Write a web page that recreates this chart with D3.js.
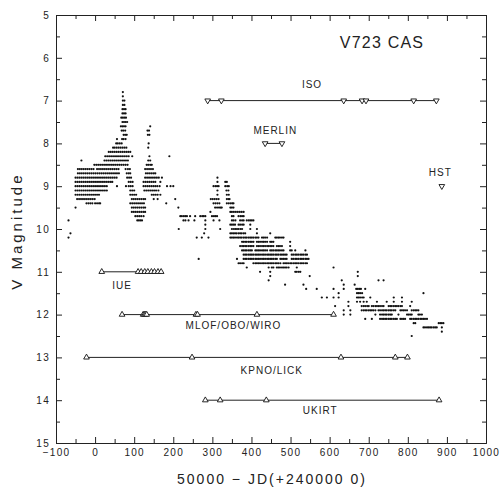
<!DOCTYPE html>
<html>
<head>
<meta charset="utf-8">
<script src="https://cdn.jsdelivr.net/npm/d3@7"></script>
<style>
  body { margin: 0; background: #fff; }
  svg { display: block; }
  text { font-family: "Liberation Sans", Arial, sans-serif; fill: #222; }
  .tick text { font-size: 10px; letter-spacing: 1.3px; }
  .axis path, .axis line { stroke: #222; stroke-width: 1; }
</style>
</head>
<body>
<svg id="chart"></svg>
<script>
// V magnitude light curve, one entry per magnitude row (days since JD 2450000)
const vRows = [
  { v: 6.8, days: [71] },
  { v: 6.9, days: [71] },
  { v: 7.0, days: [71, 75] },
  { v: 7.1, days: [71, 75] },
  { v: 7.2, days: [70, 74, 78] },
  { v: 7.3, days: [70, 74, 78] },
  { v: 7.4, days: [67, 71, 75, 79] },
  { v: 7.5, days: [70, 74, 78, 82] },
  { v: 7.6, days: [66, 70, 74, 78, 141] },
  { v: 7.7, days: [68, 72, 77, 134, 138] },
  { v: 7.8, days: [73, 77, 81, 135, 139] },
  { v: 7.9, days: [56, 69, 73, 78] },
  { v: 8.0, days: [54, 58, 63, 68, 137] },
  { v: 8.1, days: [46, 50, 55, 60, 65, 70, 75, 80, 136] },
  { v: 8.2, days: [35, 40, 45, 50, 55, 60, 65, 70, 75, 80, 85, 90] },
  { v: 8.3, days: [26, 31, 36, 41, 46, 51, 56, 61, 66, 71, 76, 81, 86, 95, 139, 190] },
  { v: 8.4, days: [-35, 24, 29, 34, 39, 44, 49, 54, 59, 64, 69, 74, 79, 84, 136, 141] },
  { v: 8.5, days: [-2, 3, 8, 13, 18, 23, 28, 33, 38, 43, 48, 53, 58, 63, 68, 73, 78, 83, 132, 136, 141, 145] },
  { v: 8.6, days: [-44, -39, -34, -29, -24, -19, -14, -9, -4, 5, 10, 15, 20, 25, 30, 35, 40, 45, 50, 55, 60, 78, 84, 89, 128, 133, 138, 143, 148] },
  { v: 8.7, days: [-44, -39, -34, -29, -24, -19, -14, -9, -4, 1, 6, 11, 16, 21, 26, 31, 36, 41, 46, 51, 56, 61, 81, 86, 90, 130, 135, 140, 145, 150, 154] },
  { v: 8.8, days: [-50, -45, -40, -35, -30, -25, -20, -15, -10, -5, 0, 5, 10, 15, 20, 25, 30, 35, 40, 45, 50, 55, 82, 87, 92, 128, 133, 138, 143, 148, 153, 158, 163, 171, 313] },
  { v: 8.9, days: [-50, -45, -40, -35, -30, -25, -20, -15, -10, -5, 0, 5, 10, 15, 20, 25, 30, 35, 40, 44, 86, 91, 96, 124, 129, 134, 139, 144, 149, 154, 167, 313, 333, 337] },
  { v: 9.0, days: [-50, -45, -40, -35, -30, -25, -20, -15, -10, -5, 0, 5, 10, 15, 20, 25, 30, 56, 79, 86, 91, 96, 124, 129, 134, 139, 144, 149, 154, 159, 165, 184, 193, 200, 303, 308, 312, 316, 333, 338, 342] },
  { v: 9.1, days: [-50, -45, -40, -35, -30, -25, -20, -15, -10, -5, 0, 5, 10, 15, 20, 25, 30, 90, 95, 100, 126, 131, 136, 141, 146, 151, 156, 162, 313, 336, 341] },
  { v: 9.2, days: [-50, -45, -40, -35, -30, -25, -20, -15, -10, -5, 0, 5, 10, 90, 95, 100, 105, 145, 150, 155, 160, 167, 313, 337, 342] },
  { v: 9.3, days: [-46, -41, -36, -31, -26, -21, -16, -11, -6, -1, 94, 99, 104, 109, 114, 119, 124, 128, 150, 160, 205, 296, 301, 306, 311, 316, 337, 341, 344] },
  { v: 9.4, days: [-22, -17, -12, -7, 0, 5, 10, 13, 90, 95, 100, 105, 110, 115, 120, 125, 182, 303, 308, 313, 318, 337, 342, 347, 351, 354] },
  { v: 9.5, days: [-50, 94, 99, 104, 109, 114, 119, 124, 128, 213, 307, 312, 317, 321, 324, 346, 350, 354] },
  { v: 9.6, days: [94, 99, 104, 109, 114, 119, 124, 128, 295, 346, 350, 355, 360, 365, 370, 375, 380] },
  { v: 9.7, days: [103, 108, 113, 118, 124, 218, 222, 227, 231, 235, 243, 256, 269, 274, 278, 282, 299, 304, 308, 312, 350, 354, 367, 372, 376, 380] },
  { v: 9.8, days: [-68, 108, 112, 116, 120, 226, 231, 239, 254, 282, 303, 318, 350, 354, 359, 371, 376, 380, 388, 393, 397, 401, 405] },
  { v: 9.9, days: [282, 346, 350, 354, 358, 367, 371, 376, 380, 397] },
  { v: 10.0, days: [214, 282, 320, 350, 355, 359, 363, 367, 372, 376, 397, 414] },
  { v: 10.1, days: [-63, 279, 346, 350, 354, 358, 362, 367, 371, 375, 380, 384, 414, 448] },
  { v: 10.2, days: [-68, 260, 273, 290, 346, 350, 354, 358, 363, 367, 371, 375, 380, 384, 388, 393, 397, 401, 405, 410, 414, 418, 427, 431, 435, 440, 461, 465, 469, 473, 478, 482] },
  { v: 10.3, days: [376, 380, 384, 388, 393, 397, 401, 405, 414, 418, 422, 427, 431, 435, 440, 448, 452, 456, 499] },
  { v: 10.4, days: [371, 376, 380, 384, 388, 393, 397, 401, 405, 414, 418, 422, 427, 431, 435, 440, 444, 448, 452, 456, 465, 469, 473, 478, 499] },
  { v: 10.5, days: [376, 380, 384, 388, 393, 397, 401, 410, 414, 418, 422, 427, 431, 435, 440, 448, 452, 456, 461, 465, 469, 473, 478, 482, 499, 503, 512, 538] },
  { v: 10.6, days: [380, 384, 388, 393, 397, 401, 405, 410, 414, 418, 422, 427, 431, 435, 440, 444, 448, 452, 456, 461, 465, 469, 474, 478, 482, 486, 490, 503, 507, 512, 516, 520, 525, 529, 533, 538, 542] },
  { v: 10.7, days: [265, 363, 380, 384, 388, 393, 397, 401, 405, 410, 414, 418, 422, 427, 431, 435, 440, 444, 448, 452, 456, 461, 465, 474, 478, 482, 486, 490, 503, 507, 512, 516, 520, 525, 529, 533, 538, 542, 546] },
  { v: 10.8, days: [367, 371, 376, 380, 405, 410, 414, 418, 422, 427, 431, 435, 440, 444, 448, 452, 456, 461, 465, 469, 474, 482, 486, 490, 494, 499, 503, 508, 512, 516, 520, 525, 529, 533, 538, 542] },
  { v: 10.9, days: [388, 444, 452, 456, 465, 469, 473, 478, 482, 486, 490, 495, 516, 610] },
  { v: 11.0, days: [422, 448, 512, 516, 521, 525, 672] },
  { v: 11.1, days: [448, 549, 672] },
  { v: 11.2, days: [444, 631, 725, 738] },
  { v: 11.3, days: [486, 533, 636, 664] },
  { v: 11.4, days: [540, 567, 610, 636, 668, 672, 676, 680, 691] },
  { v: 11.5, days: [623, 670, 674, 678, 683, 840] },
  { v: 11.6, days: [580, 593, 610, 623, 670, 674, 678, 683, 687, 704, 764, 785] },
  { v: 11.7, days: [648, 670, 678, 687, 695, 721, 746, 764, 785, 810] },
  { v: 11.8, days: [614, 648, 682, 687, 691, 696, 700, 708, 712, 717, 721, 725, 729, 734, 738, 751, 755, 759, 764, 768, 772, 776, 781, 785, 806] },
  { v: 11.9, days: [636, 653, 682, 687, 691, 695, 700, 704, 708, 712, 717, 725, 729, 734, 738, 742, 746, 751, 755, 759, 764, 768, 781, 785, 789, 793, 798, 810, 815, 819, 823, 827] },
  { v: 12.0, days: [636, 653, 717, 729, 734, 738, 742, 746, 751, 755, 759, 776, 798, 802, 806, 810, 827, 831, 836] },
  { v: 12.1, days: [691, 708, 729, 734, 738, 742, 746, 751, 755, 759, 764, 768, 772, 781, 785, 789, 793, 806, 810, 815, 819, 823, 827, 832, 836, 840, 844, 849] },
  { v: 12.2, days: [815, 819, 879, 883, 887, 891] },
  { v: 12.3, days: [840, 844, 849, 853, 857, 861, 866, 870, 874, 887] },
  { v: 12.4, days: [887] },
  { v: 12.5, days: [810] }
];

// observing campaigns (epochs), drawn as marker rows at a fixed level
const isoDays = [288, 323, 636, 683, 693, 815, 873];
const merlinDays = [435, 478];
const hstDays = [887];
const iueDays = [17, 110, 118, 127, 135, 144, 152, 161, 169];
const mlofDays = [69, 123, 126, 129, 132, 258, 262, 414, 610];
const kpnoDays = [-22, 248, 629, 768, 799];
const ukirtDays = [282, 320, 438, 880];

const campaigns = [
  { name: "ISO", level: 7, days: isoDays, down: true, label: [555, 6.62] },
  { name: "MERLIN", level: 8, days: merlinDays, down: true, label: [461, 7.69] },
  { name: "HST", level: 9, days: hstDays, down: true, label: [883, 8.68] },
  { name: "IUE", level: 11, days: iueDays, down: false, label: [69, 11.31] },
  { name: "MLOF/OBO/WIRO", level: 12, days: mlofDays, down: false, label: [354, 12.26] },
  { name: "KPNO/LICK", level: 13, days: kpnoDays, down: false, label: [452, 13.31] },
  { name: "UKIRT", level: 14, days: ukirtDays, down: false, label: [576, 14.25] }
];

const xTicks = [-100, 0, 100, 200, 300, 400, 500, 600, 700, 800, 900, 1000];
const yTicks = [5, 6, 7, 8, 9, 10, 11, 12, 13, 14, 15];

const width = 502, height = 487;
const margin = { top: 15, right: 16, bottom: 44, left: 56 };

const svg = d3.select("#chart").attr("width", width).attr("height", height);

const x = d3.scaleLinear().domain([-100, 1000]).range([margin.left, width - margin.right]);
const y = d3.scaleLinear().domain([5, 15]).range([margin.top, height - margin.bottom]);

const xMinor = d3.range(-50, 1000, 100);
const yMinor = d3.range(5.5, 15, 1);

// axes: major + minor ticks, all pointing inward
svg.append("g").attr("class", "axis")
  .attr("transform", `translate(0,${y(15)})`)
  .call(d3.axisBottom(x).tickValues(xTicks).tickSize(-6).tickSizeOuter(0).tickPadding(6).tickFormat(d3.format("d")));
svg.append("g").attr("class", "axis")
  .attr("transform", `translate(0,${y(15)})`)
  .call(d3.axisBottom(x).tickValues(xMinor).tickSize(-4).tickSizeOuter(0).tickFormat(""));
svg.append("g").attr("class", "axis")
  .attr("transform", `translate(0,${y(5)})`)
  .call(d3.axisTop(x).tickValues(xTicks).tickSize(-6).tickSizeOuter(0).tickFormat(""));
svg.append("g").attr("class", "axis")
  .attr("transform", `translate(0,${y(5)})`)
  .call(d3.axisTop(x).tickValues(xMinor).tickSize(-4).tickSizeOuter(0).tickFormat(""));

svg.append("g").attr("class", "axis")
  .attr("transform", `translate(${x(-100)},0)`)
  .call(d3.axisLeft(y).tickValues(yTicks).tickSize(-6).tickSizeOuter(0).tickPadding(6).tickFormat(d3.format("d")));
svg.append("g").attr("class", "axis")
  .attr("transform", `translate(${x(-100)},0)`)
  .call(d3.axisLeft(y).tickValues(yMinor).tickSize(-4).tickSizeOuter(0).tickFormat(""));
svg.append("g").attr("class", "axis")
  .attr("transform", `translate(${x(1000)},0)`)
  .call(d3.axisRight(y).tickValues(yTicks).tickSize(-6).tickSizeOuter(0).tickFormat(""));
svg.append("g").attr("class", "axis")
  .attr("transform", `translate(${x(1000)},0)`)
  .call(d3.axisRight(y).tickValues(yMinor).tickSize(-4).tickSizeOuter(0).tickFormat(""));

svg.selectAll(".tick text").attr("fill", "#222");

// light curve points
const points = vRows.flatMap((r) => r.days.map((d) => ({ day: d, v: r.v })));
svg.append("g")
  .selectAll("circle")
  .data(points)
  .enter()
  .append("circle")
  .attr("cx", (d) => x(d.day))
  .attr("cy", (d) => y(d.v))
  .attr("r", 1.1)
  .attr("fill", "#111");

// campaign rows
const tri = d3.symbol().type(d3.symbolTriangle).size(14);
const cg = svg.append("g");
campaigns.forEach((c) => {
  if (c.days.length > 1) {
    cg.append("line")
      .attr("x1", x(d3.min(c.days))).attr("x2", x(d3.max(c.days)))
      .attr("y1", y(c.level)).attr("y2", y(c.level))
      .attr("stroke", "#222").attr("stroke-width", 1);
  }
  cg.selectAll(null)
    .data(c.days)
    .enter()
    .append("path")
    .attr("d", tri)
    .attr("transform", (d) => `translate(${x(d)},${y(c.level)}) rotate(${c.down ? 180 : 0})`)
    .attr("fill", "#fff")
    .attr("stroke", "#111")
    .attr("stroke-width", 0.9);
  cg.append("text")
    .attr("x", x(c.label[0]))
    .attr("y", y(c.label[1]))
    .attr("dy", "0.35em")
    .attr("text-anchor", "middle")
    .attr("font-size", 10)
    .attr("letter-spacing", 1)
    .text(c.name);
});

svg.append("text")
  .attr("x", x(734))
  .attr("y", y(5.65))
  .attr("dy", "0.35em")
  .attr("text-anchor", "middle")
  .attr("font-size", 16)
  .attr("letter-spacing", 1.2)
  .text("V723 CAS");

svg.append("text")
  .attr("x", 272)
  .attr("y", 484)
  .attr("text-anchor", "middle")
  .attr("font-size", 14)
  .attr("letter-spacing", 2)
  .text("50000 − JD(+240000 0)");

svg.append("text")
  .attr("transform", `translate(17,${y(10.05)}) rotate(-90)`)
  .attr("dy", "0.35em")
  .attr("text-anchor", "middle")
  .attr("font-size", 15)
  .attr("letter-spacing", 3)
  .text("V Magnitude");
</script>
</body>
</html>
